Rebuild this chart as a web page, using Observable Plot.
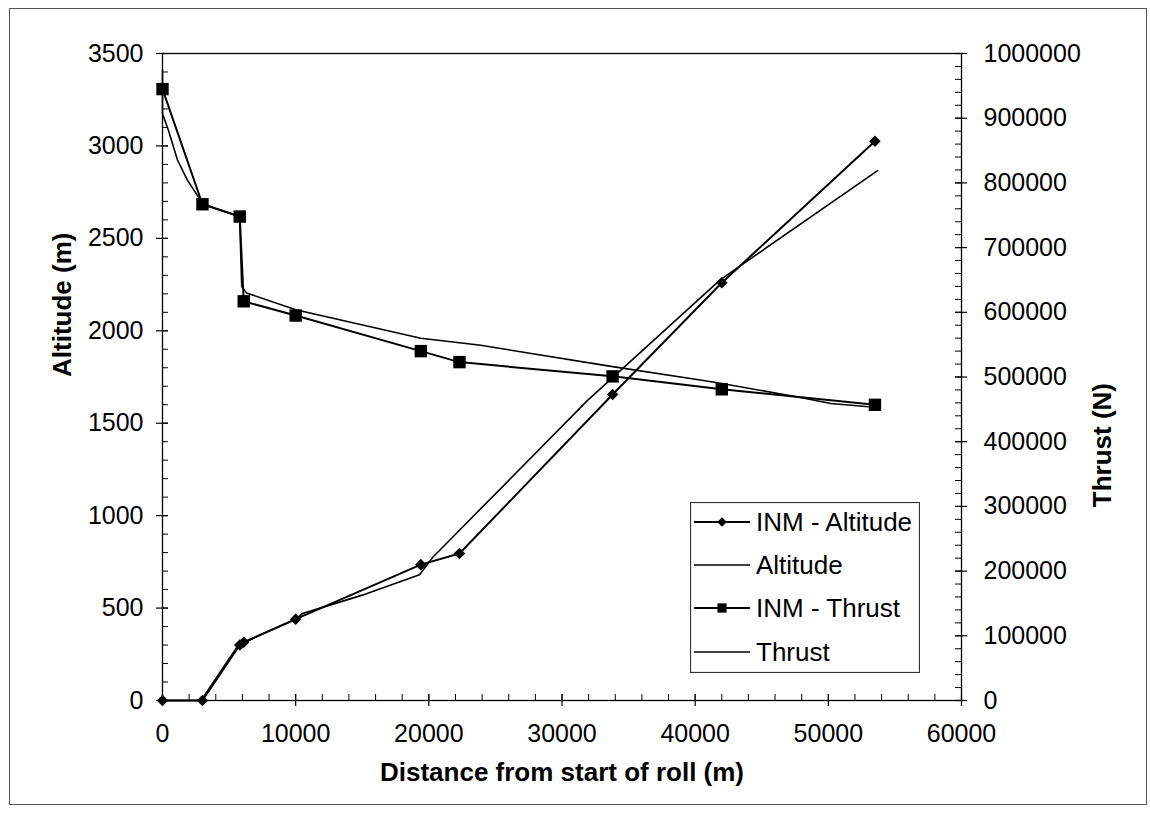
<!DOCTYPE html>
<html>
<head>
<meta charset="utf-8">
<script src="https://cdn.jsdelivr.net/npm/d3@7"></script>
<script src="https://cdn.jsdelivr.net/npm/@observablehq/plot@0.6"></script>
<style>
  body { margin: 0; background: #fff; }
  #wrap { position: relative; width: 1150px; height: 837px; }
  #border { position: absolute; left: 9px; top: 8px; width: 1138px; height: 797px; border: 1px solid #555; box-sizing: border-box; }
  #chart { position: absolute; left: 0; top: 0; }
  #legend { position: absolute; left: 690px; top: 502px; }
</style>
</head>
<body>
<div id="wrap"><div id="border"></div><div id="chart"></div><div id="legend"></div></div>
<script>
// ---- data ----
const distanceINM = [0, 3000, 5800, 6100, 10000, 19400, 22300, 33800, 42000, 53500];
const altitudeINM = [0, 0, 300, 315, 440, 735, 795, 1655, 2260, 3025];
const thrustINM   = [945000, 767000, 748000, 617000, 595000, 540000, 523000, 501000, 481000, 457000];

const altitudeDist = [0, 2900, 5700, 10000, 10500, 15000, 19300, 20300, 31900, 41900, 53700];
const altitudeVals = [0, 0, 300, 440, 470, 570, 680, 775, 1622, 2277, 2866];

const thrustDist = [0, 0, 450, 1130, 1880, 2860, 3080, 5790, 5950, 6300, 10000, 19400, 23900, 33800, 40500, 42000, 48000, 50200, 53000];
const thrustVals = [975000, 907000, 881000, 835000, 804000, 773000, 767000, 748000, 640000, 630000, 604000, 560000, 549000, 516000, 495000, 490000, 468000, 459000, 454000];

const xTicks = [0, 10000, 20000, 30000, 40000, 50000, 60000];
const xMinorTicks = d3.range(0, 60001, 2000);
const altTicks = [0, 500, 1000, 1500, 2000, 2500, 3000, 3500];
const altMinorTicks = d3.range(0, 3501, 100);
const thrustTicks = [0, 100000, 200000, 300000, 400000, 500000, 600000, 700000, 800000, 900000, 1000000];
const thrustMinorTicks = d3.range(0, 1000001, 20000);

const seriesNames = ["INM - Altitude", "Altitude", "INM - Thrust", "Thrust"];
const xTitle = "Distance from start of roll (m)";
const yTitle = "Altitude (m)";
const y2Title = "Thrust (N)";

// ---- derived tables ----
const altMax = 3500, thrustMax = 1000000;
const toAlt = t => t * altMax / thrustMax;  // map thrust onto the shared y scale
const inm = distanceINM.map((d, i) => ({d, alt: altitudeINM[i], thr: toAlt(thrustINM[i])}));
const altLine = altitudeDist.map((d, i) => ({d, v: altitudeVals[i]}));
const thrLine = thrustDist.map((d, i) => ({d, v: toAlt(thrustVals[i])}));

const font = "'Liberation Sans', Arial, Helvetica, sans-serif";
const W = 1150, H = 837, mL = 162, mR = 189, mT = 53, mB = 137;
const fw = W - mL - mR, fh = H - mT - mB;
const tk = 6; // tick half-length

const chart = Plot.plot({
  width: W, height: H,
  marginLeft: mL, marginRight: mR, marginTop: mT, marginBottom: mB,
  x: {domain: [0, 60000]},
  y: {domain: [0, altMax]},
  style: {fontFamily: font, fontSize: "25px", color: "#000", background: "transparent", overflow: "visible"},
  marks: [
    Plot.frame({stroke: "#000", strokeWidth: 1.3}),
    // left axis
    Plot.axisY({anchor: "left", ticks: altTicks, tickSize: 0, tickPadding: 19, label: null, fontSize: 25, tickFormat: d => String(d)}),
    Plot.tickY(altTicks, {y: d => d, insetLeft: -tk, insetRight: fw - tk, stroke: "#000", strokeWidth: 1.2}),
    Plot.tickY(altMinorTicks, {y: d => d, insetLeft: 0, insetRight: fw - tk, stroke: "#000", strokeWidth: 1}),
    // right axis (thrust)
    Plot.axisY({anchor: "right", ticks: thrustTicks.map(toAlt), tickSize: 0, tickPadding: 22, label: null, fontSize: 25,
                tickFormat: d => String(Math.round(d * thrustMax / altMax))}),
    Plot.tickY(thrustTicks.map(toAlt), {y: d => d, insetLeft: fw - tk, insetRight: -tk, stroke: "#000", strokeWidth: 1.2}),
    Plot.tickY(thrustMinorTicks.map(toAlt), {y: d => d, insetLeft: fw - tk, insetRight: 0, stroke: "#000", strokeWidth: 1}),
    // bottom axis
    Plot.axisX({anchor: "bottom", ticks: xTicks, tickSize: 0, tickPadding: 24, label: null, fontSize: 25, tickFormat: d => String(d)}),
    Plot.tickX(xTicks, {x: d => d, insetTop: fh - tk, insetBottom: -tk, stroke: "#000", strokeWidth: 1.2}),
    Plot.tickX(xMinorTicks, {x: d => d, insetTop: fh - tk, insetBottom: 0, stroke: "#000", strokeWidth: 1}),
    // titles
    Plot.text([yTitle], {text: d => d, frameAnchor: "left", dx: -100, rotate: -90, fontWeight: "bold", fontSize: 26}),
    Plot.text([y2Title], {text: d => d, frameAnchor: "right", dx: 141, dy: 6, rotate: -90, fontWeight: "bold", fontSize: 26}),
    Plot.text([xTitle], {text: d => d, frameAnchor: "bottom", dy: 80, fontWeight: "bold", fontSize: 26}),
    // data
    Plot.line(altLine, {x: "d", y: "v", stroke: "#000", strokeWidth: 1.6}),
    Plot.line(thrLine, {x: "d", y: "v", stroke: "#000", strokeWidth: 1.6}),
    Plot.line(inm, {x: "d", y: "alt", stroke: "#000", strokeWidth: 2}),
    Plot.line(inm, {x: "d", y: "thr", stroke: "#000", strokeWidth: 2}),
    Plot.dot(inm, {x: "d", y: "alt", symbol: "diamond2", r: 5.2, fill: "#000", stroke: "none"}),
    Plot.dot(inm, {x: "d", y: "thr", symbol: "square", r: 7, fill: "#000", stroke: "none"})
  ]
});
document.getElementById("chart").appendChild(chart);

// ---- legend ----
const lw = 230, lh = 171;
const leg = d3.select("#legend").append("svg").attr("width", lw).attr("height", lh)
  .style("font-family", font).style("font-size", "26px");
leg.append("rect").attr("x", 0.5).attr("y", 0.5).attr("width", lw - 1).attr("height", lh - 1)
  .attr("fill", "#fff").attr("stroke", "#333").attr("stroke-width", 1.2);
const rowY = [20, 63, 106, 150];
const markers = ["diamond", null, "square", null];
seriesNames.forEach((name, i) => {
  const g = leg.append("g").attr("transform", `translate(0,${rowY[i]})`);
  g.append("line").attr("x1", 4).attr("x2", 60).attr("y1", 0).attr("y2", 0)
    .attr("stroke", "#000").attr("stroke-width", markers[i] ? 2 : 1.6);
  if (markers[i] === "diamond") {
    g.append("path").attr("d", d3.symbol(d3.symbolDiamond2, 60)()).attr("transform", "translate(32,0)").attr("fill", "#000");
  } else if (markers[i] === "square") {
    g.append("path").attr("d", d3.symbol(d3.symbolSquare, 85)()).attr("transform", "translate(32,0)").attr("fill", "#000");
  }
  g.append("text").attr("x", 66).attr("y", 0).attr("dy", "0.35em").text(name);
});
</script>
</body>
</html>
